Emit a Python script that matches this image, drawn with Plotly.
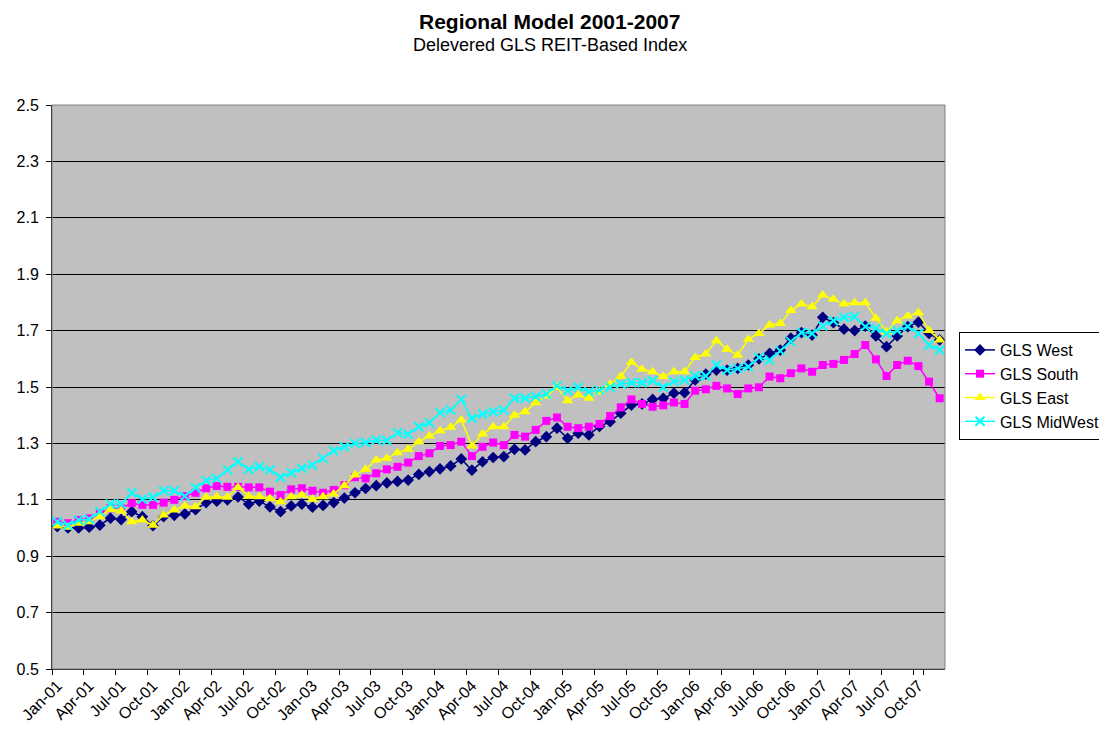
import plotly.graph_objects as go

month_names = ["Jan", "Feb", "Mar", "Apr", "May", "Jun", "Jul", "Aug", "Sep", "Oct", "Nov", "Dec"]
years = ["01", "02", "03", "04", "05", "06", "07"]
months = [f"{m}-{y}" for y in years for m in month_names]

gls_west = [1.005, 1.000, 1.000, 1.003, 1.010, 1.035, 1.030, 1.058, 1.040, 1.008, 1.040, 1.045,
            1.050, 1.065, 1.090, 1.095, 1.100, 1.110, 1.085, 1.095, 1.075, 1.058, 1.078, 1.085,
            1.074, 1.080, 1.090, 1.106, 1.125, 1.140, 1.150, 1.160, 1.165, 1.170, 1.190, 1.200,
            1.210, 1.220, 1.245, 1.205, 1.235, 1.250, 1.253, 1.279, 1.277, 1.306, 1.324, 1.354,
            1.318, 1.336, 1.330, 1.360, 1.377, 1.407, 1.436, 1.440, 1.456, 1.460, 1.478, 1.480,
            1.525, 1.546, 1.560, 1.560, 1.566, 1.578, 1.600, 1.619, 1.631, 1.673, 1.693, 1.684,
            1.747, 1.728, 1.705, 1.700, 1.716, 1.681, 1.643, 1.681, 1.714, 1.730, 1.690, 1.667]

gls_south = [1.022, 1.017, 1.028, 1.034, 1.052, 1.070, 1.070, 1.088, 1.082, 1.082, 1.090, 1.100,
             1.113, 1.125, 1.141, 1.149, 1.146, 1.146, 1.144, 1.144, 1.129, 1.117, 1.137, 1.141,
             1.132, 1.125, 1.135, 1.152, 1.180, 1.176, 1.194, 1.208, 1.217, 1.232, 1.255, 1.265,
             1.291, 1.294, 1.306, 1.255, 1.288, 1.303, 1.294, 1.330, 1.324, 1.348, 1.380, 1.392,
             1.359, 1.354, 1.359, 1.369, 1.397, 1.428, 1.456, 1.440, 1.430, 1.435, 1.445, 1.440,
             1.487, 1.492, 1.504, 1.495, 1.475, 1.495, 1.499, 1.537, 1.531, 1.549, 1.566, 1.554,
             1.578, 1.582, 1.596, 1.617, 1.649, 1.598, 1.539, 1.578, 1.593, 1.574, 1.519, 1.460]

gls_east = [1.007, 1.003, 1.017, 1.022, 1.040, 1.066, 1.061, 1.022, 1.028, 1.010, 1.046, 1.064,
            1.078, 1.075, 1.109, 1.111, 1.109, 1.144, 1.113, 1.111, 1.105, 1.093, 1.111, 1.117,
            1.102, 1.111, 1.121, 1.150, 1.188, 1.208, 1.241, 1.247, 1.267, 1.279, 1.306, 1.326,
            1.345, 1.357, 1.383, 1.291, 1.333, 1.359, 1.359, 1.400, 1.412, 1.444, 1.468, 1.499,
            1.451, 1.472, 1.460, 1.483, 1.511, 1.537, 1.588, 1.563, 1.554, 1.537, 1.554, 1.554,
            1.605, 1.617, 1.664, 1.634, 1.613, 1.669, 1.690, 1.720, 1.725, 1.771, 1.794, 1.785,
            1.826, 1.811, 1.794, 1.799, 1.799, 1.744, 1.696, 1.735, 1.752, 1.763, 1.700, 1.667]

gls_midwest = [1.022, 1.010, 1.028, 1.031, 1.058, 1.085, 1.085, 1.125, 1.102, 1.109, 1.132, 1.132,
               1.113, 1.143, 1.168, 1.176, 1.206, 1.235, 1.208, 1.217, 1.206, 1.180, 1.196, 1.212,
               1.223, 1.247, 1.274, 1.288, 1.300, 1.303, 1.312, 1.310, 1.338, 1.333, 1.359, 1.373,
               1.409, 1.418, 1.456, 1.389, 1.404, 1.412, 1.418, 1.460, 1.460, 1.466, 1.475, 1.504,
               1.487, 1.499, 1.483, 1.489, 1.499, 1.511, 1.515, 1.515, 1.522, 1.499, 1.519, 1.525,
               1.539, 1.539, 1.578, 1.560, 1.566, 1.572, 1.605, 1.596, 1.628, 1.661, 1.693, 1.690,
               1.716, 1.735, 1.747, 1.749, 1.714, 1.708, 1.690, 1.700, 1.714, 1.690, 1.649, 1.631]

y_ticks = [0.5, 0.7, 0.9, 1.1, 1.3, 1.5, 1.7, 1.9, 2.1, 2.3, 2.5]
x_tick_labels = months[::3]

title_text = "Regional Model 2001-2007"
subtitle_text = "Delevered GLS REIT-Based Index"

FONT = "Arial, 'Liberation Sans', sans-serif"

fig = go.Figure()
fig.add_trace(go.Scatter(x=months, y=gls_west, name="GLS West", mode="lines+markers",
                         line=dict(color="#000080", width=1.5),
                         marker=dict(symbol="diamond", size=9, color="#000080")))
fig.add_trace(go.Scatter(x=months, y=gls_south, name="GLS South", mode="lines+markers",
                         line=dict(color="#FF00FF", width=1.5),
                         marker=dict(symbol="square", size=8, color="#FF00FF")))
fig.add_trace(go.Scatter(x=months, y=gls_east, name="GLS East", mode="lines+markers",
                         line=dict(color="#FFFF00", width=1.5),
                         marker=dict(symbol="triangle-up", size=10, color="#FFFF00")))
fig.add_trace(go.Scatter(x=months, y=gls_midwest, name="GLS MidWest", mode="lines+markers",
                         line=dict(color="#00FFFF", width=1.5),
                         marker=dict(symbol="x-thin", size=9, color="#00FFFF",
                                     line=dict(color="#00FFFF", width=2))))

# the page body adds an 8px offset, so the figure is 8px smaller and margins shifted
fig.update_layout(
    width=1099, height=725,
    margin=dict(l=44, r=162, t=97, b=64, autoexpand=False),
    paper_bgcolor="white",
    plot_bgcolor="#C0C0C0",
    font=dict(family=FONT, size=16, color="black"),
    showlegend=True,
    legend=dict(x=(959 - 52) / 893, y=(669 - 332) / 564, xanchor="left", yanchor="top",
                bgcolor="white", bordercolor="black", borderwidth=1,
                font=dict(family=FONT, size=16, color="black"),
                tracegroupgap=0),
    annotations=[
        dict(text=f"<b>{title_text}</b>", xref="paper", yref="paper",
             x=(549 - 52) / 893, y=1.0, yshift=84, xanchor="center", yanchor="middle",
             showarrow=False, font=dict(family=FONT, size=21, color="black")),
        dict(text=subtitle_text, xref="paper", yref="paper",
             x=(550 - 52) / 893, y=1.0, yshift=60, xanchor="center", yanchor="middle",
             showarrow=False, font=dict(family=FONT, size=18, color="black")),
    ],
    shapes=[dict(type="rect", xref="paper", yref="paper", x0=0, y0=0, x1=1, y1=1,
                 line=dict(color="#808080", width=1), layer="above")],
)

fig.update_xaxes(type="category", range=[-0.5, 83.5],
                 tickmode="array", tickvals=x_tick_labels, ticktext=x_tick_labels,
                 tickson="boundaries", ticks="outside", ticklen=5, tickcolor="black",
                 tickangle=-45, showgrid=False, zeroline=False,
                 showline=True, linecolor="black", linewidth=1,
                 tickfont=dict(family=FONT, size=16, color="black"))
fig.update_yaxes(range=[0.5, 2.5], tickmode="array", tickvals=y_ticks,
                 ticktext=[f"{v:.1f}" for v in y_ticks],
                 ticks="outside", ticklen=5, tickcolor="black", ticklabelstandoff=4,
                 showgrid=True, gridcolor="black", gridwidth=1, zeroline=False,
                 showline=True, linecolor="black", linewidth=1,
                 tickfont=dict(family=FONT, size=16, color="black"))

fig.write_html("out.html")
